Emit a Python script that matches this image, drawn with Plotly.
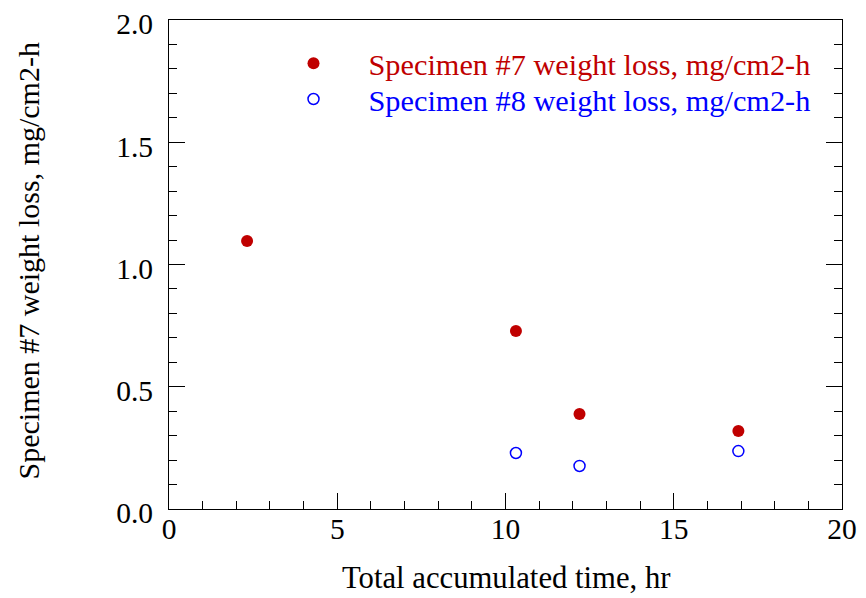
import plotly.graph_objects as go

RED = "#c00000"
BLUE = "#0000ff"
FONT = "Liberation Serif, Times New Roman, serif"

# Specimen #7
time_7 = [2.32, 10.31, 12.2, 16.92]
loss_7 = [1.096, 0.728, 0.389, 0.319]

# Specimen #8
time_8 = [10.31, 12.2, 16.92]
loss_8 = [0.229, 0.176, 0.237]

label_7 = "Specimen #7 weight loss, mg/cm2-h"
label_8 = "Specimen #8 weight loss, mg/cm2-h"
x_title = "Total accumulated time, hr"

fig = go.Figure()
fig.add_trace(go.Scatter(
    x=time_7, y=loss_7, mode="markers",
    name=f"<span style='color:{RED}'>{label_7}</span>",
    marker={"color": RED, "size": 12, "symbol": "circle"},
    legend="legend",
))
fig.add_trace(go.Scatter(
    x=time_8, y=loss_8, mode="markers",
    name=f"<span style='color:{BLUE}'>{label_8}</span>",
    marker={"color": BLUE, "size": 11, "symbol": "circle-open", "line": {"width": 1.5}},
    legend="legend2",
))

axis_common = {
    "showgrid": False,
    "zeroline": False,
    "showline": True,
    "linecolor": "black",
    "linewidth": 1,
    "ticks": "inside",
    "tickcolor": "black",
    "automargin": False,
    "ticklabeloverflow": "allow",
    "tickfont": {"family": FONT, "size": 29.5, "color": "black"},
}

legend_common = {
    "xanchor": "left", "yanchor": "top",
    "bgcolor": "rgba(0,0,0,0)",
    "font": {"family": FONT, "size": 30.3},
    "itemwidth": 100,
}

# page body has an 8px margin, so the figure is sized to fit the window
fig.update_layout(
    width=858, height=590,
    paper_bgcolor="white", plot_bgcolor="white",
    margin={"l": 161, "r": 24, "t": 12, "b": 89},
    font={"family": FONT, "color": "black"},
    xaxis={
        **axis_common,
        "range": [0, 20], "dtick": 5, "ticklen": 16, "mirror": True,
        "ticklabelstandoff": -6,
        "minor": {"dtick": 1, "ticklen": 8, "ticks": "inside", "tickcolor": "black"},
    },
    yaxis={
        **axis_common,
        "range": [0, 2.0], "dtick": 0.5, "tickformat": ".1f", "ticklen": 16, "mirror": "ticks",
        "ticklabelstandoff": 9, "ticklabelshift": 4,
        "minor": {"dtick": 0.1, "ticklen": 8, "ticks": "inside", "tickcolor": "black"},
    },
    legend={**legend_common, "x": 0.133, "y": 0.965},
    legend2={**legend_common, "x": 0.133, "y": 0.892},
    showlegend=True,
)

fig.add_annotation(
    text=x_title, xref="paper", yref="paper", x=0.5, y=0,
    yshift=-69, xanchor="center", yanchor="middle", showarrow=False,
    font={"family": FONT, "size": 30.7, "color": "black"},
)
fig.add_annotation(
    text=label_7, xref="paper", yref="paper", x=0, y=0.5,
    xshift=-141, yshift=3, xanchor="center", yanchor="middle", textangle=-90, showarrow=False,
    font={"family": FONT, "size": 30, "color": "black"},
)

fig.write_html("out.html")
